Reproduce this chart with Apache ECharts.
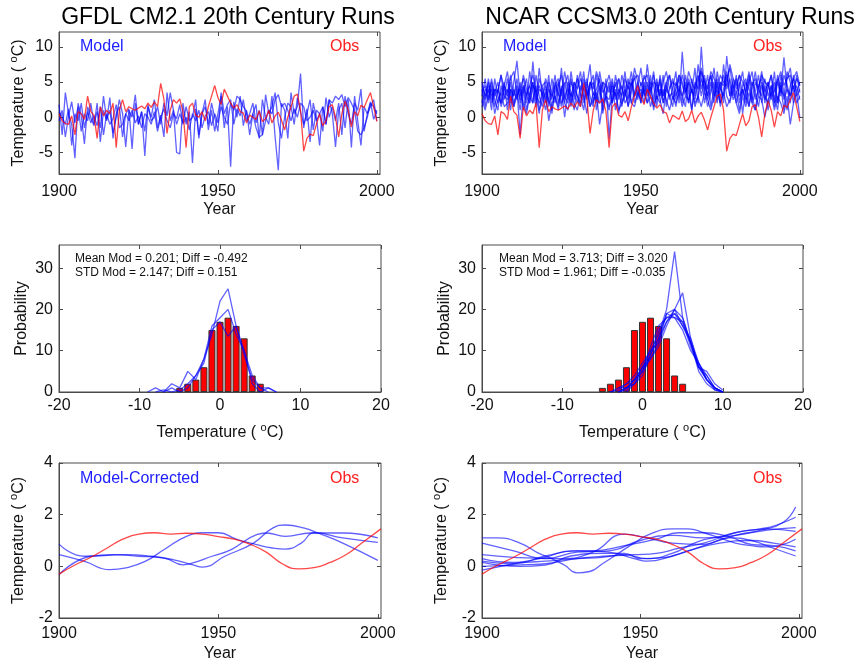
<!DOCTYPE html>
<html>
<head>
<meta charset="utf-8">
<script src="https://cdn.jsdelivr.net/npm/echarts@6/dist/echarts.min.js"></script>
<style>
html, body { margin: 0; padding: 0; background: #fff; }
#chart { width: 861px; height: 667px; }
</style>
</head>
<body>
<div id="chart"></div>
<script>
// ---- data ----
var firstYear = 1900;

// observed annual anomalies, 1900..2000 (same in both columns)
var obsAnnual = [
  0.5, -0.5, -0.9, -1.0, 0.2, -2.5, 0.8, 0.5, -0.3, 3.0,
  0.8, 0.3, -3.0, 1.5, 0.2, 1.0, 0.5, 2.0, -4.3, 1.0,
  2.5, 0.8, 1.5, 1.2, 1.0, 1.3, 1.6, 1.2, 2.0, 1.4,
  2.2, 1.5, 4.8, 2.6, -2.3, 1.0, 2.5, 2.0, 2.6, 0.8,
  -4.3, 1.5, 2.0, 0.3, 0.0, 0.8, -0.5, 1.5, 3.0, 4.5,
  2.8, 1.8, 4.0, 3.0, 2.0, 1.3, 1.8, 0.8, 0.6, -0.8,
  0.3, 0.0, -0.3, 0.9, -0.6, -0.2, 1.0, -0.8, 0.2, 0.7,
  -0.4, -1.8, 0.0, 1.5, 3.0, 3.3, 1.0, -4.8, -3.0, -2.4,
  -2.6, -1.0, 0.5, -1.2, -0.5, 1.5, 1.8, 0.0, -2.8, 0.5,
  2.3, 1.0, -1.4, 0.8, 0.2, 1.7, 1.4, 2.5, 3.5, 1.5,
  -0.6
];

// GFDL CM2.1 runs
var gfdlRun1 = [
  1.8, -2.5, 3.5, 0.5, -1.0, -5.8, 2.0, 0.2, -3.8, 1.5,
  0.0, -1.2, 2.0, -3.5, 1.0, -0.5, 2.8, -3.0, 0.5, 1.5,
  -2.8, 0.5, 1.2, -4.5, 2.0, -1.0, 0.8, -5.5, 1.5, 0.0,
  2.5, -1.5, 0.3, -2.8, 3.5, -0.5, 1.0, -5.0, -5.2, 2.0,
  -1.0, 0.8, -6.5, 1.2, -2.5, 0.5, 2.5, -1.8, 1.0, -2.0,
  0.5, 3.0, -1.5, 1.5, -7.0, 2.2, 0.0, 3.0, -1.2, 1.0,
  -2.5, 0.5, 1.8, -3.0, 2.5, 0.0, -1.0, 3.0, -2.8, -7.5,
  2.0, 1.0, -3.0, 3.5, 0.5, 1.5, 6.2, -1.5, 1.2, -3.5,
  2.0, 0.0, -4.0, 1.5, -1.0, 2.5, 0.5, -4.2, 1.0, 2.0,
  -1.5, 2.5, -4.3, 3.0, -0.5, -4.0, 1.5, 0.5, 2.2, -0.3,
  1.0
];
var gfdlRun2 = [
  -0.5, 1.0, -2.8, 0.2, 2.2, -0.8, 1.5, -2.0, 0.5, -0.5,
  2.0, -1.0, 0.8, -1.5, 3.0, -0.3, 1.0, -2.2, 0.0, 2.5,
  0.5, -4.2, 1.0, 0.0, 3.2, -1.0, 0.8, -2.0, 1.8, -0.5,
  0.0, 1.5, -1.0, 2.0, 0.2, 3.5, 1.0, -1.0, 0.5, -0.8,
  1.5, -0.5, 0.0, 2.5, -3.0, 0.5, 1.5, -1.0, 2.0, 0.0,
  -2.0, 3.5, 0.5, 1.8, 2.5, -1.0, 1.2, 0.2, 2.5, -0.5,
  0.5, 2.0, -0.8, 1.0, -2.5, 3.2, 0.5, 1.5, 3.5, -0.8,
  -3.0, 0.0, 2.0, 1.5, -1.0, 2.8, 0.8, -1.0, 0.5, 2.5,
  -1.8, 1.0, 0.5, -2.0, 2.8, 0.0, 1.5, -0.5, 2.0, -2.5,
  3.0, 0.5, -1.0, 2.0, 1.0, 4.0, -2.0, 0.5, 1.5, 2.5,
  -0.5
];
var gfdlRun3 = [
  0.8, 0.0, -1.0, 1.2, -4.0, 0.5, -0.5, 2.0, -1.5, 0.8,
  -0.8, 0.2, -1.2, 1.5, -2.5, 0.5, -1.0, -0.2, 1.8, -1.5,
  -1.0, 0.5, -0.5, 1.0, -0.8, 0.2, -1.5, 0.5, 0.0, -1.0,
  0.8, -2.0, 0.0, 1.2, -0.5, -1.5, 0.5, -0.2, 1.8, -1.0,
  0.0, -1.8, 0.5, -0.5, 1.0, -1.5, 0.2, 0.8, -1.2, 0.5,
  -0.8, 1.5, 0.0, -1.0, 2.0, 1.0, 3.0, 2.5, 1.5, 0.8,
  -1.0, 0.5, -1.5, -2.8, -2.5, -0.5, 1.0, 0.5, 2.5, 3.2,
  1.5, 2.0, 1.0, -0.5, 1.2, 0.0, 2.0, 1.5, -0.5, 0.0,
  1.0, -0.5, 0.5, 1.5, -1.0, 2.5, 2.0, 3.0, 2.5, 3.2,
  1.5, 2.8, 2.0, 1.0, -2.0, -2.5, -1.5, 0.0, 2.0, 1.5,
  0.5
];

// NCAR CCSM3.0 runs
var ncarRun1 = [
  3.0, 5.5, 2.0, 4.5, 1.5, 3.8, 6.0, 2.5, 4.0, 1.0,
  5.0, 8.0, 3.0, 4.5, 2.0, 6.5, 3.5, 1.5, 5.5, 4.0,
  2.5, 6.0, 0.5, 4.5, 3.0, 7.0, 2.0, 5.0, 3.5, 1.0,
  4.5, 6.5, 2.5, 5.0, 3.0, 1.5, 6.0, 4.0, 2.0, 5.5,
  -3.0, 3.0, 5.0, 2.5, 6.0, 4.0, 1.5, 5.5, 3.0, 4.5,
  7.0, 3.5, 2.0, 5.0, 4.5, 1.5, 6.0, 3.0, 5.0, 2.5,
  4.0, 6.5, 2.0, 9.3, 3.5, 5.0, 1.0, 4.5, 6.0, 3.0,
  5.5, 2.5, 4.0, 7.0, 3.0, 5.0, 2.0, 8.7, 4.5, 3.0,
  6.0, 2.0, 4.5, 5.5, 1.5, 4.0, 6.5, 3.0, 5.0, 2.5,
  4.0, 6.0, 1.5, 5.0, 3.5, 8.5, 4.0, 2.0, 6.0, 3.5,
  5.0
];
var ncarRun2 = [
  5.0, 2.5, 4.0, 1.0, 5.5, 3.0, 2.0, 4.5, 6.5, 3.0,
  1.5, 4.0, -2.5, 3.5, 5.5, 2.0, 7.9, 3.0, 0.5, 4.5,
  5.0, 1.5, 3.5, 6.0, 2.0, 4.0, 0.0, 3.5, 5.5, 2.5,
  6.0, 3.0, 1.0, 4.5, 7.5, 2.0, 4.0, 5.5, 1.0, 3.5,
  5.0, 2.0, 4.0, 0.5, 3.5, 6.5, 2.5, 4.0, 7.0, 5.0,
  3.0, 6.0, 4.5, 1.5, 3.0, 5.5, 2.5, 0.5, 4.0, 6.0,
  2.5, 4.0, 5.5, 3.0, 1.5, 5.0, 3.5, 7.0, 2.0, 10.0,
  3.5, 6.0, 1.5, 4.0, 5.5, 2.0, 7.5, 4.0, 5.5, 2.5,
  3.5, 5.0, 0.5, 4.0, 6.5, 3.0, 1.0, 4.5, 5.5, 2.0,
  5.0, 3.0, 6.5, 2.0, 4.5, 1.0, 5.5, 7.0, 3.5, 4.5,
  2.5
];
var ncarRun3 = [
  2.0, 4.0, 3.5, 5.0, 2.5, 1.0, 4.5, 3.0, 5.5, 2.0,
  4.0, 2.5, 5.0, 1.0, 3.5, 4.5, 2.0, 6.0, 3.0, 1.5,
  4.0, 2.0, 5.5, 3.0, 1.0, 4.0, 5.0, 2.5, 6.5, 3.5,
  2.0, 4.5, 3.0, 0.5, 5.0, 3.5, 2.0, 6.5, 4.0, 2.5,
  1.0, 4.5, 3.0, 5.5, 2.0, 4.0, 1.5, 3.5, 6.0, 2.5,
  5.0, 3.0, 7.5, 4.0, 2.0, 5.0, 3.0, 6.0, 1.5, 4.0,
  5.5, 3.0, 4.5, 2.0, 6.0, 3.5, 1.0, 5.0, 4.0, 6.5,
  2.0, 4.5, 6.0, 3.0, 5.0, 1.5, 4.0, 6.0, 3.0, 5.0,
  2.0, 4.5, 6.5, 3.0, 1.5, 5.0, 3.5, 6.0, 2.0, 4.5,
  1.0, 3.5, 5.0, 2.0, 6.0, 3.5, 1.0, 4.5, 5.5, 3.0,
  4.0
];
var ncarRun4 = [
  4.0, 1.5, 5.5, 3.0, 4.0, 2.0, 3.5, 5.0, 1.0, 4.0,
  3.0, 5.5, 2.0, 4.0, 1.0, 3.5, 5.0, 2.5, 7.0, 3.0,
  1.0, 4.0, 2.5, 5.0, 3.5, 1.5, 4.5, 6.0, 2.0, 4.0,
  3.0, 1.5, 5.5, 3.0, 4.5, 6.0, 1.0, 3.5, 5.0, 3.0,
  4.5, 2.0, 6.0, 3.5, 1.5, 4.0, 5.5, 2.0, 3.5, 5.0,
  2.0, 4.5, 3.0, 6.0, 1.0, 3.5, 5.0, 2.0, 4.5, 3.0,
  1.5, 5.0, 3.5, 6.0, 4.0, 2.0, 5.5, 3.0, 7.5, 4.0,
  6.0, 3.0, 5.0, 2.0, 6.5, 4.0, 3.0, 5.5, 7.0, 4.0,
  5.5, 3.0, 4.0, 2.0, 5.0, 6.5, 2.5, 4.0, 3.0, 5.5,
  3.0, 4.5, 2.0, 6.0, 4.0, 3.0, 6.5, 5.0, 2.0, 6.0,
  3.5
];
var ncarRun5 = [
  1.5, 3.0, 4.5, 2.0, 3.5, 5.0, 1.5, 3.0, 2.5, 5.0,
  2.0, 3.5, 1.0, 4.5, 3.0, 2.0, 4.5, 3.5, 2.0, 3.0,
  4.5, 2.5, 1.0, 3.5, 5.0, 2.0, 3.0, 4.0, 1.5, 5.0,
  3.0, 2.0, 4.0, 5.5, 1.5, 3.5, 2.5, 4.5, 0.5, 3.0,
  2.5, 5.0, 1.0, 3.5, 4.5, 2.0, 3.0, 5.0, 2.0, 3.5,
  4.0, 2.0, 5.0, 3.0, 6.0, 3.5, 5.5, 2.0, 4.0, 3.0,
  3.5, 1.5, 4.0, 3.0, 5.0, 2.0, 4.0, 1.5, 3.0, 5.5,
  4.0, 1.5, 3.5, 5.0, 2.5, 4.0, 6.0, 3.0, 2.0, 4.5,
  3.5, 1.0, 4.0, 2.5, 5.5, 2.0, 3.5, 1.5, 4.5, 3.0,
  2.0, 4.5, 3.0, 1.0, 5.0, 2.5, 4.0, 3.0, 4.5, 2.0,
  3.0
];
var ncarRun6 = [
  3.5, 4.5, 2.5, 5.5, 3.0, 4.0, 2.0, 4.5, 3.5, 6.0,
  3.0, 4.5, 2.5, 6.0, 4.0, 3.0, 5.0, 2.0, 4.0, 3.5,
  2.0, 5.0, 3.5, 2.0, 4.5, 6.0, 3.0, 2.0, 5.0, 4.0,
  5.5, 3.5, 6.5, 2.5, 4.0, 5.0, 3.0, 2.0, 5.0, 4.5,
  3.5, 5.5, 2.5, 4.0, 3.0, 5.5, 4.0, 6.5, 3.0, 4.0,
  2.0, 5.0, 3.5, 4.0, 6.5, 2.5, 4.0, 3.0, 5.0, 6.0,
  4.0, 2.5, 6.0, 4.5, 3.0, 5.5, 4.0, 2.5, 5.0, 7.0,
  4.5, 3.0, 6.0, 4.0, 2.0, 5.0, 4.5, 6.5, 3.0, 5.5,
  4.0, 6.0, 3.0, 5.0, 4.0, 2.5, 5.0, 4.0, 6.5, 3.5,
  5.0, 2.5, 4.0, 5.5, 3.0, 6.0, 4.5, 3.0, 5.5, 6.5,
  4.5
];
var ncarRun7 = [
  2.5, 1.0, 3.0, 4.0, 0.5, 2.5, 3.5, 1.5, 2.0, 4.0,
  1.5, 3.0, 4.0, 2.0, 0.5, 3.0, 2.0, 4.5, 1.0, 2.5,
  3.5, -0.5, 2.0, 3.0, 1.5, 4.5, 2.0, 1.0, 3.5, 2.0,
  1.0, 3.5, 2.0, 4.0, 1.5, 2.5, 3.5, -1.0, 2.0, 3.0,
  1.5, 2.5, 3.5, 1.0, 2.0, 3.0, 4.5, 2.0, 1.5, 3.5,
  2.5, 4.0, 2.0, 3.0, 1.5, 3.0, 2.0, 4.0, 2.5, 1.0,
  3.0, 2.0, 3.5, 1.5, 3.0, 2.5, 4.0, 2.0, 3.0, 1.5,
  3.5, 2.5, 1.0, 3.0, 4.0, 2.0, 3.5, 1.5, 2.5, 4.0,
  2.0, 0.5, 3.0, 1.5, 3.5, 2.0, 1.0, 3.0, 2.5, 0.0,
  2.5, 3.5, 1.0, 3.0, 2.0, 0.5, 3.0, -1.0, 2.0, 3.5,
  0.0
];
var ncarRun8 = [
  4.5, 3.0, 5.0, 2.5, 4.0, 3.5, 6.0, 4.0, 3.0, 5.5,
  6.5, 3.5, 4.0, 5.5, 3.0, 4.5, 6.0, 3.5, 4.5, 3.0,
  5.5, 4.0, 3.0, 4.5, 5.5, 3.0, 6.5, 4.0, 3.0, 5.0,
  4.0, 5.5, 4.0, 3.0, 5.0, 4.0, 6.5, 5.0, 3.5, 4.5,
  6.0, 3.5, 4.5, 5.5, 4.0, 3.0, 5.0, 4.5, 5.5, 6.0,
  4.5, 5.5, 6.0, 3.5, 5.0, 4.5, 3.0, 5.0, 6.5, 4.0,
  5.0, 4.5, 6.0, 5.0, 3.5, 6.5, 5.0, 4.0, 5.5, 6.5,
  5.0, 4.0, 6.5, 5.5, 4.0, 6.0, 5.0, 4.5, 7.5, 5.5,
  4.5, 6.0, 5.0, 3.5, 6.0, 4.5, 5.5, 4.0, 6.0, 5.0,
  4.5, 6.0, 3.5, 5.0, 6.5, 4.5, 5.5, 6.0, 4.0, 5.5,
  4.5
];

// observed histogram (bin centre, percent)
var histBins = [-5, -4, -3, -2, -1, 0, 1, 2, 3, 4, 5];
var histObs = [1, 2, 3, 6, 15, 17, 18, 16, 13, 4, 2];

// model PDFs, [temperature, probability]
var gfdlPdf1 = [[-8,0],[-7,0.5],[-6,0],[-5,0.5],[-4,2],[-3,4],[-2,8],[-1,14],[0,22],[1,25],[2,16],[3,9],[4,3],[5,1],[6,0]];
var gfdlPdf2 = [[-9,0],[-8,1],[-7,0],[-6,2],[-5,1],[-4,5],[-3,3],[-2,8],[-1,16],[0,18],[1,20],[2,14],[3,10],[4,4],[5,1],[6,1],[7,0]];
var gfdlPdf3 = [[-7,0],[-6,1],[-5,0],[-4,1],[-3,4],[-2,7],[-1,15],[0,17],[1,13.5],[2,16],[3,10],[4,2],[5,0],[6,1],[7,0]];

var ncarPdf1 = [[-4,0],[-3,1],[-2,2],[-1,4],[0,7],[1,10],[2,14],[3,20],[4,34],[5,18],[6,12],[7,6],[8,3],[9,1],[10,0]];
var ncarPdf2 = [[-3,0],[-2,1],[-1,3],[0,6],[1,9],[2,13],[3,17],[4,20],[5,24],[6,13],[7,7],[8,3],[9,1],[10,0]];
var ncarPdf3 = [[-3,0],[-2,1],[-1,2],[0,5],[1,9],[2,15],[3,18],[4,19],[5,17],[6,11],[7,6],[8,4],[9,1],[10,0]];
var ncarPdf4 = [[-3,1],[-2,1],[-1,3],[0,6],[1,10],[2,12],[3,19],[4,20],[5,16],[6,12],[7,5],[8,2],[9,0.5],[10,0]];
var ncarPdf5 = [[-4,0],[-3,0.5],[-2,2],[-1,3],[0,5],[1,11],[2,16],[3,18],[4,18],[5,15],[6,10],[7,7],[8,4],[9,1],[10,0]];
var ncarPdf6 = [[-3,0],[-2,1],[-1,2],[0,6],[1,8],[2,12],[3,17],[4,19],[5,16],[6,13],[7,6],[8,5],[9,2],[10,0.5]];
var ncarPdf7 = [[-2,0],[-1,2],[0,4],[1,9],[2,13],[3,19],[4,18],[5,17],[6,12],[7,6],[8,3],[9,1],[10,0]];
var ncarPdf8 = [[-3,0],[-2,0.5],[-1,3],[0,5],[1,8],[2,11],[3,16],[4,20],[5,18],[6,12],[7,7],[8,3],[9,0.5],[10,0]];

// smoothed (low-pass) curves, [year, value]
var obsSmooth = [[1900,-0.3],[1905,0.05],[1910,0.35],[1915,0.7],[1920,1.05],[1925,1.25],[1930,1.3],[1935,1.25],[1940,1.28],[1945,1.25],[1950,1.15],[1955,1.05],[1960,0.85],[1965,0.55],[1970,0.1],[1975,-0.1],[1980,-0.05],[1985,0.15],[1990,0.45],[1995,0.9],[2001,1.45]];

var gfdlSmooth1 = [[1900,0.86],[1908,0.39],[1921,0.45],[1929,0.39],[1936,0.25],[1942,0.06],[1945,-0.03],[1952,0.39],[1961,0.9],[1967,1.48],[1971,1.6],[1977,1.48],[1981,1.3],[1989,0.9],[2000,0.23]];
var gfdlSmooth2 = [[1900,0.45],[1908,0.19],[1916,-0.13],[1921,-0.06],[1927,0.19],[1933,0.65],[1940,1.16],[1946,1.3],[1950,1.3],[1956,1.03],[1962,0.84],[1967,0.71],[1971,0.67],[1976,0.9],[1980,1.3],[1989,1.1],[2000,0.93]];
var gfdlSmooth3 = [[1900,-0.32],[1910,0.39],[1917,0.45],[1925,0.39],[1933,0.32],[1939,0.06],[1942,0.13],[1948,0.39],[1954,0.65],[1962,1.23],[1965,1.29],[1971,1.16],[1979,1.29],[1989,1.29],[2000,1.1]];

var ncarSmooth1 = [[1900,1.1],[1905,1.1],[1912,0.9],[1918,0.5],[1922,0.3],[1926,0.05],[1930,-0.25],[1934,-0.2],[1938,0.1],[1943,0.5],[1948,0.9],[1953,1.25],[1960,1.45],[1965,1.45],[1970,1.3],[1975,1.1],[1980,0.9],[1985,0.8],[1990,0.75],[1995,0.85],[1999,1.05]];
var ncarSmooth2 = [[1900,0.9],[1910,0.6],[1920,0.3],[1930,0.55],[1940,0.6],[1950,1.0],[1960,1.2],[1970,1.1],[1980,1.2],[1990,1.4],[1999,1.5]];
var ncarSmooth3 = [[1900,0.45],[1910,0.35],[1925,0.3],[1935,0.55],[1945,1.25],[1952,1.1],[1960,0.9],[1970,0.85],[1978,1.1],[1985,1.0],[1992,0.7],[1999,0.4]];
var ncarSmooth4 = [[1900,0.2],[1910,0.1],[1920,0.4],[1930,0.6],[1940,0.55],[1948,0.3],[1952,0.2],[1960,0.4],[1970,0.8],[1980,1.2],[1988,1.4],[1995,1.7],[1999,2.3]];
var ncarSmooth5 = [[1900,-0.15],[1910,0.1],[1920,0.35],[1928,0.6],[1935,0.6],[1945,0.8],[1955,1.05],[1962,1.3],[1970,1.3],[1978,1.15],[1985,0.85],[1992,0.8],[1999,0.6]];
var ncarSmooth6 = [[1900,0.0],[1910,0.05],[1920,0.1],[1930,0.3],[1940,0.4],[1948,0.45],[1955,0.5],[1962,0.7],[1970,0.9],[1980,1.3],[1988,1.45],[1993,1.6],[1999,1.9]];
var ncarSmooth7 = [[1900,0.3],[1910,0.15],[1920,0.2],[1930,0.3],[1938,0.35],[1945,0.45],[1952,0.3],[1960,0.5],[1968,0.95],[1975,1.15],[1982,1.35],[1990,1.45],[1999,1.35]];
var ncarSmooth8 = [[1900,0.15],[1912,0.0],[1920,0.05],[1928,0.4],[1938,0.5],[1945,0.5],[1950,0.3],[1958,0.35],[1965,0.6],[1975,0.9],[1985,1.0],[1992,0.9],[1999,0.75]];

var yearTicks = [1900, 1950, 2000];
var tempTicks = [-5, 0, 5, 10];
var pdfXTicks = [-20, -10, 0, 10, 20];
var pdfYTicks = [0, 10, 20, 30];
var smoothTicks = [-2, 0, 2, 4];

// ---- chart ----
var FONT = '"Liberation Sans", Arial, sans-serif';
var BLUE = 'rgba(0,0,255,0.62)';
var RED = 'rgba(255,0,0,0.72)';
var AXIS = '#4a4a4a';
var tempName = 'Temperature ( {s|o}C)';
var nameRich = { s: { fontSize: 11, fontFamily: FONT, color: '#111', padding: [0, 0, 10, 0], verticalAlign: 'middle' } };

var grids = [
  { left: 59, top: 32, width: 321, height: 142 },
  { left: 482, top: 32, width: 321, height: 142 },
  { left: 59, top: 245, width: 322, height: 147 },
  { left: 482, top: 245, width: 321, height: 147 },
  { left: 59, top: 463, width: 322, height: 155 },
  { left: 482, top: 463, width: 320, height: 155 }
];
grids.forEach(function (g) { g.show = true; g.borderColor = AXIS; g.borderWidth = 1; g.backgroundColor = '#fff'; });

var xAxes = [], yAxes = [];
function plain(v) { return String(v); }

function addX(gi, min, max, ticks, name, gap, margin) {
  xAxes.push({
    type: 'value', gridIndex: gi, min: min, max: max, position: 'bottom',
    name: name, nameLocation: 'middle', nameGap: gap,
    nameTextStyle: { fontSize: 16, fontFamily: FONT, color: '#111', rich: nameRich },
    axisLine: { show: true, onZero: false, lineStyle: { color: AXIS } },
    axisTick: { show: true, inside: true, length: 4, customValues: ticks, lineStyle: { color: AXIS } },
    axisLabel: { customValues: ticks, formatter: plain, fontSize: 16, fontFamily: FONT, color: '#111', margin: margin },
    splitLine: { show: false }
  });
  xAxes.push({
    type: 'value', gridIndex: gi, min: min, max: max, position: 'top',
    axisLine: { show: false, onZero: false },
    axisTick: { show: true, inside: true, length: 4, customValues: ticks, lineStyle: { color: AXIS } },
    axisLabel: { show: false }, splitLine: { show: false }
  });
}

function addY(gi, min, max, ticks, name, gap) {
  yAxes.push({
    type: 'value', gridIndex: gi, min: min, max: max, position: 'left',
    name: name, nameLocation: 'middle', nameGap: gap,
    nameTextStyle: { fontSize: 16, fontFamily: FONT, color: '#111', rich: nameRich },
    axisLine: { show: true, onZero: false, lineStyle: { color: AXIS } },
    axisTick: { show: true, inside: true, length: 4, customValues: ticks, lineStyle: { color: AXIS } },
    axisLabel: { customValues: ticks, formatter: plain, fontSize: 16, fontFamily: FONT, color: '#111', margin: 6 },
    splitLine: { show: false }
  });
  yAxes.push({
    type: 'value', gridIndex: gi, min: min, max: max, position: 'right',
    axisLine: { show: false, onZero: false },
    axisTick: { show: true, inside: true, length: 4, customValues: ticks, lineStyle: { color: AXIS } },
    axisLabel: { show: false }, splitLine: { show: false }
  });
}

addX(0, 1900, 2001, yearTicks, 'Year', 28, 10);
addY(0, -8.05, 12.1, tempTicks, tempName, 30);
addX(1, 1900, 2001, yearTicks, 'Year', 28, 10);
addY(1, -8.05, 12.1, tempTicks, tempName, 30);
addX(2, -20, 20, pdfXTicks, tempName, 30, 6);
addY(2, 0, 35.6, pdfYTicks, 'Probability', 29);
addX(3, -20, 20, pdfXTicks, tempName, 30, 6);
addY(3, 0, 35.6, pdfYTicks, 'Probability', 29);
addX(4, 1900, 2001, yearTicks, 'Year', 28, 8);
addY(4, -2, 4, smoothTicks, tempName, 30);
addX(5, 1900, 2001, yearTicks, 'Year', 28, 8);
addY(5, -2, 4, smoothTicks, tempName, 30);

var series = [];

function annual(values) {
  return values.map(function (v, i) { return [firstYear + i, v]; });
}

function line(panel, data, color, smooth) {
  series.push({
    type: 'line', xAxisIndex: panel * 2, yAxisIndex: panel * 2,
    data: data, symbol: 'none', smooth: smooth ? 0.5 : false,
    lineStyle: { color: color, width: 1.3 }, silent: true, animation: false, z: 3
  });
}

// top row
[gfdlRun1, gfdlRun2, gfdlRun3].forEach(function (r) { line(0, annual(r), BLUE); });
line(0, annual(obsAnnual), RED);
[ncarRun1, ncarRun2, ncarRun3, ncarRun4, ncarRun5, ncarRun6, ncarRun7, ncarRun8].forEach(function (r) { line(1, annual(r), BLUE); });
line(1, annual(obsAnnual), RED);

// middle row
var histData = histBins.map(function (b, i) { return [b, histObs[i]]; });
[2, 3].forEach(function (p) {
  series.push({
    type: 'bar', xAxisIndex: p * 2, yAxisIndex: p * 2, data: histData,
    barWidth: 7, itemStyle: { color: '#ff0000', borderColor: '#333', borderWidth: 1 },
    silent: true, animation: false, z: 2
  });
});
[gfdlPdf1, gfdlPdf2, gfdlPdf3].forEach(function (d) { line(2, d, BLUE); });
[ncarPdf1, ncarPdf2, ncarPdf3, ncarPdf4, ncarPdf5, ncarPdf6, ncarPdf7, ncarPdf8].forEach(function (d) { line(3, d, BLUE); });

// bottom row
[gfdlSmooth1, gfdlSmooth2, gfdlSmooth3].forEach(function (d) { line(4, d, BLUE, true); });
line(4, obsSmooth, RED, true);
[ncarSmooth1, ncarSmooth2, ncarSmooth3, ncarSmooth4, ncarSmooth5, ncarSmooth6, ncarSmooth7, ncarSmooth8].forEach(function (d) { line(5, d, BLUE, true); });
line(5, obsSmooth, RED, true);

function label(x, y, text, size, color, align) {
  return {
    type: 'text', x: x, y: y, z: 10, silent: true,
    style: { text: text, fill: color, font: size + 'px ' + FONT, align: align || 'left', verticalAlign: 'middle' }
  };
}

var graphic = [
  label(228, 18, 'GFDL CM2.1 20th Century Runs', 23, '#000', 'center'),
  label(670, 18, 'NCAR CCSM3.0 20th Century Runs', 23, '#000', 'center'),
  label(80, 47, 'Model', 16, '#2020ff'),
  label(330, 47, 'Obs', 16, '#ff2020'),
  label(503, 47, 'Model', 16, '#2020ff'),
  label(753, 47, 'Obs', 16, '#ff2020'),
  label(75, 259, 'Mean Mod = 0.201; Diff = -0.492', 12, '#111'),
  label(75, 273, 'STD Mod = 2.147; Diff = 0.151', 12, '#111'),
  label(499, 259, 'Mean Mod = 3.713; Diff = 3.020', 12, '#111'),
  label(499, 273, 'STD Mod = 1.961; Diff = -0.035', 12, '#111'),
  label(80, 479, 'Model-Corrected', 16, '#2020ff'),
  label(330, 479, 'Obs', 16, '#ff2020'),
  label(503, 479, 'Model-Corrected', 16, '#2020ff'),
  label(753, 479, 'Obs', 16, '#ff2020')
];

var chart = echarts.init(document.getElementById('chart'), null, { renderer: 'canvas' });
chart.setOption({
  animation: false,
  backgroundColor: '#fff',
  grid: grids,
  xAxis: xAxes,
  yAxis: yAxes,
  series: series,
  graphic: graphic
});
</script>
</body>
</html>
